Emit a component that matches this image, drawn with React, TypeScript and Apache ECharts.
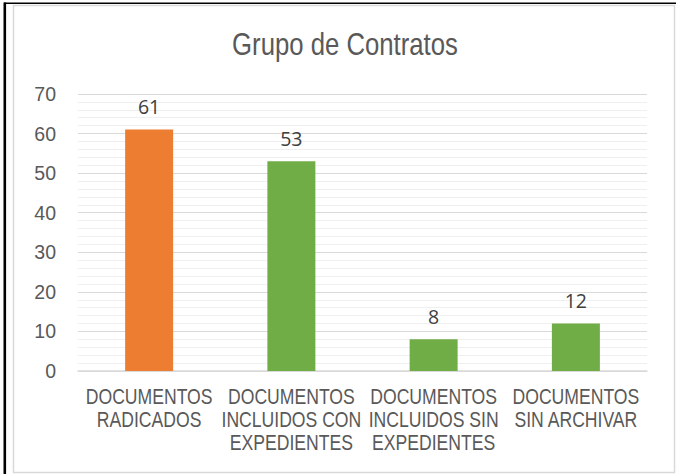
import React, { useEffect, useRef } from "react";
import * as echarts from "echarts";

const categories = [
  "DOCUMENTOS\nRADICADOS",
  "DOCUMENTOS\nINCLUIDOS CON\nEXPEDIENTES",
  "DOCUMENTOS\nINCLUIDOS SIN\nEXPEDIENTES",
  "DOCUMENTOS\nSIN ARCHIVAR",
];
const values = [61, 53, 8, 12];
const barColors = ["#ED7D31", "#70AD47", "#70AD47", "#70AD47"];
const titleText = "Grupo de Contratos";
const yMin = 0;
const yMax = 70;
const yInterval = 10;

const SANS = "'Liberation Sans', Arial, sans-serif";
const LABEL_FONT = "'Open Sans', Carlito, Calibri, sans-serif";
const NARROW_SCALE = 0.8;

export default function App() {
  const ref = useRef<HTMLDivElement>(null);
  useEffect(() => {
    document.body.style.margin = "0";
    if (!ref.current) return;
    const chart = echarts.init(ref.current, null, { renderer: "svg" });
    chart.setOption({
      animation: false,
      backgroundColor: "#ffffff",
      grid: { left: 78, right: 29, top: 94, bottom: 103, containLabel: false },
      xAxis: {
        type: "category",
        data: categories,
        axisLine: { show: true, lineStyle: { color: "#D9D9D9", width: 1.5 } },
        axisTick: { show: false },
        axisLabel: { show: false },
      },
      yAxis: {
        type: "value",
        min: yMin,
        max: yMax,
        interval: yInterval,
        axisLine: { show: false },
        axisTick: { show: false },
        axisLabel: {
          margin: 22,
          fontFamily: SANS,
          fontSize: 19.5,
          color: "#595959",
        },
        splitLine: { lineStyle: { color: "#D9D9D9", width: 1.2 } },
        minorTick: { show: false, splitNumber: 5 },
        minorSplitLine: { show: true, lineStyle: { color: "#EFEFEF", width: 1.2 } },
      },
      series: [
        {
          type: "bar",
          barWidth: 48,
          data: values.map((v, i) => ({ value: v, itemStyle: { color: barColors[i] } })),
          label: {
            show: true,
            position: "top",
            distance: 13,
            fontFamily: LABEL_FONT,
            fontSize: 19.5,
            color: "#404040",
          },
        },
      ],
    });

    const axisY = chart.convertToPixel({ yAxisIndex: 0 }, yMin) as number;
    const labelTexts = categories.map((c, i) => {
      const x = chart.convertToPixel({ xAxisIndex: 0 }, i) as number;
      return {
        type: "text",
        x,
        y: axisY + 14,
        scaleX: NARROW_SCALE,
        style: {
          text: c,
          fontFamily: SANS,
          fontSize: 22,
          lineHeight: 23,
          fill: "#595959",
          align: "center",
          verticalAlign: "top",
        },
      };
    });

    chart.setOption({
      graphic: [
        { type: "rect", shape: { x: 4, y: 2.5, width: 672, height: 1.6 }, style: { fill: "#000" } },
        { type: "rect", shape: { x: 3.5, y: 2.5, width: 2.6, height: 472 }, style: { fill: "#000" } },
        {
          type: "rect",
          shape: { x: 13.5, y: 5.5, width: 661, height: 467 },
          style: { fill: "none", stroke: "#D9D9D9", lineWidth: 1.5 },
        },
        {
          type: "text",
          x: 345,
          y: 44,
          scaleX: 0.83,
          style: {
            text: titleText,
            fontFamily: SANS,
            fontSize: 31,
            fill: "#595959",
            align: "center",
            verticalAlign: "middle",
          },
        },
        ...labelTexts,
      ],
    });
    return () => chart.dispose();
  }, []);
  return <div ref={ref} style={{ width: 676, height: 474 }} />;
}
